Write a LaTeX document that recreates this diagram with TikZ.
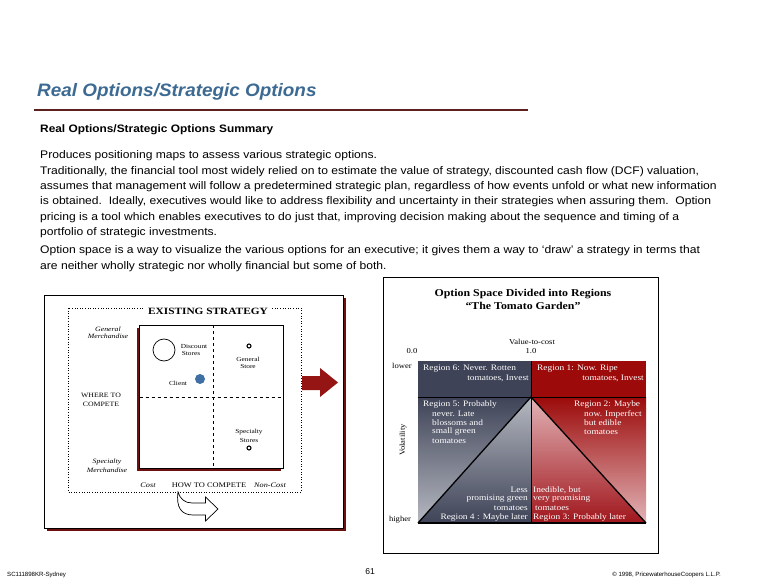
\documentclass[tikz,border=0pt]{standalone}
\usepackage{fontspec}
\setmainfont{Liberation Serif}
\setsansfont{Liberation Sans}
\newfontfamily\bodyfont[FakeStretch=1.1]{Liberation Sans}
\newfontfamily\titlefont[FakeStretch=1.05]{Liberation Sans}
\newfontfamily\leftfont[FakeStretch=1.18]{Liberation Serif}
\newfontfamily\chartfont[FakeStretch=1.13]{Liberation Serif}
\definecolor{titleblue}{HTML}{3D6A92}
\definecolor{rulered}{HTML}{5E1F1F}
\definecolor{shadowred}{HTML}{6E1010}
\definecolor{arrowred}{HTML}{951414}
\definecolor{slate}{HTML}{3E4357}
\definecolor{slatelight}{HTML}{B6B9C1}
\definecolor{redtop}{HTML}{9C0A0A}
\definecolor{redbot}{HTML}{A0161C}
\definecolor{pinklight}{HTML}{E2B4B7}
\definecolor{clientblue}{HTML}{3F6FA3}
\begin{document}
\begin{tikzpicture}[x=1pt,y=-1pt,
  body/.style={font=\bodyfont\fontsize{11}{12}\selectfont, inner sep=0pt, anchor=base west},
  tinytxt/.style={font=\leftfont\fontsize{6.2}{7}\selectfont, inner sep=0pt},
  tinyit/.style={font=\leftfont\fontsize{6.6}{7}\selectfont\itshape, inner sep=0pt},
  capstxt/.style={font=\leftfont\fontsize{6.6}{7}\selectfont, inner sep=0pt},
  axistxt/.style={font=\chartfont\fontsize{7.6}{8}\selectfont, inner sep=0pt},
  regtxt/.style={font=\chartfont\fontsize{8.3}{9}\selectfont, text=white, inner sep=0pt},
  foot/.style={font=\sffamily\fontsize{6.1}{7}\selectfont, inner sep=0pt}]
\useasboundingbox[fill=white] (0,0) rectangle (763,585);

% ---- header
\node[anchor=base west, inner sep=0pt, font=\titlefont\bfseries\itshape\fontsize{18}{20}\selectfont, text=titleblue] (title) at (37,97) {Real Options/Strategic Options};
\draw[rulered, line width=2.2] (34,110) -- (528,110);
\node[anchor=base west, inner sep=0pt, font=\bodyfont\bfseries\fontsize{10.8}{12}\selectfont] (sumhead) at (40,133) {Real Options/Strategic Options Summary};

\node[body] (p1) at (40,159) {Produces positioning maps to assess various strategic options.};
\node[body] (p2) at (40,174.5) {Traditionally, the financial tool most widely relied on to estimate the value of strategy, discounted cash flow (DCF) valuation,};
\node[body] (p3) at (40,189.8) {assumes that management will follow a predetermined strategic plan, regardless of how events unfold or what new information};
\node[body] (p4) at (40,205) {is obtained.\ \ Ideally, executives would like to address flexibility and uncertainty in their strategies when assuring them.\ \ Option};
\node[body] (p5) at (40,220.2) {pricing is a tool which enables executives to do just that, improving decision making about the sequence and timing of a};
\node[body] (p6) at (40,235.4) {portfolio of strategic investments.};
\node[body] (p7) at (40,254) {Option space is a way to visualize the various options for an executive; it gives them a way to ‘draw’ a strategy in terms that};
\node[body] (p8) at (40,269.2) {are neither wholly strategic nor wholly financial but some of both.};

% ---- left panel
\fill[shadowred] (47,298) rectangle (346,531);
\draw[fill=white, line width=0.8] (44,295) rectangle (343,528);
\draw[dotted, line width=0.6] (68,308) rectangle (301,492);
\node[fill=white, inner sep=4pt, font=\leftfont\bfseries\fontsize{9.6}{10}\selectfont] (exist) at (208,311) {EXISTING STRATEGY};
\fill[shadowred] (136.5,328) rectangle (281,471);
\draw[fill=white, line width=0.8] (139.5,325) rectangle (283,468);
\draw[dashed, line width=0.7] (213,325) -- (213,468);
\draw[dashed, line width=0.7] (139.5,397) -- (283,397);
\draw[line width=0.7] (164,350) circle (11);
\draw[line width=1.1] (249,346) circle (2);
\draw[line width=1.1] (249,448) circle (2);
\fill[clientblue] (200,379) circle (5);

\node[tinyit] (gm1) at (108,329) {General};
\node[tinyit] (gm2) at (108,336.5) {Merchandise};
\node[tinytxt] (ds1) at (194,346) {Discount};
\node[tinytxt] (ds2) at (191,353.5) {Stores};
\node[tinytxt] (gs1) at (248,359) {General};
\node[tinytxt] (gs2) at (248,366.5) {Store};
\node[tinytxt] (cl) at (178,383) {Client};
\node[capstxt] (wc1) at (101,395.5) {WHERE TO};
\node[capstxt] (wc2) at (101,404) {COMPETE};
\node[tinytxt] (ss1) at (249,432) {Specialty};
\node[tinytxt] (ss2) at (249,440) {Stores};
\node[tinyit] (sm1) at (107,462) {Specialty};
\node[tinyit] (sm2) at (107,470) {Merchandise};
\node[tinyit, font=\leftfont\fontsize{7}{7}\selectfont\itshape] (cost) at (148,485) {Cost};
\node[capstxt, font=\leftfont\fontsize{7.1}{7}\selectfont] (hc) at (209,485) {HOW TO COMPETE};
\node[tinyit, font=\leftfont\fontsize{7}{7}\selectfont\itshape] (ncost) at (270,485) {Non-Cost};

% curved hollow arrow
\draw[fill=white, line width=0.7, line join=miter]
  (178,492) .. controls (176,507) and (181,515) .. (193,515) -- (205.5,515) -- (205.5,521)
  -- (218,509) -- (205.5,497) -- (205.5,503) -- (192,503)
  .. controls (185,503) and (180,499) .. (178,492) -- cycle;

% big red arrow
\fill[arrowred] (302,376) -- (320,376) -- (320,368) -- (338,382.5) -- (320,397) -- (320,390) -- (302,390) -- cycle;

% ---- right panel
\draw[line width=0.7] (383,277) rectangle (658,553);
\node[font=\chartfont\bfseries\fontsize{10.5}{11}\selectfont, inner sep=0pt] (rt1) at (523,294) {Option Space Divided into Regions};
\node[font=\chartfont\bfseries\fontsize{10.5}{11}\selectfont, inner sep=0pt] (rt2) at (523,305.5) {“The Tomato Garden”};

\node[axistxt] (vtc) at (532,342) {Value-to-cost};
\node[axistxt] (z0) at (412,351) {0.0};
\node[axistxt] (z1) at (531,351) {1.0};
\node[axistxt] (low) at (402,366) {lower};
\node[axistxt] (high) at (400,520) {higher};
\node[axistxt, rotate=90] (vol) at (403,440) {Volatility};

\fill[slate] (418,361) rectangle (531,397);
\fill[redtop] (531,361) rectangle (646,397);
\shade[top color=slate, bottom color=slatelight] (418,397) -- (531,397) -- (418,523) -- cycle;
\shade[top color=slatelight, bottom color=slate] (531,397) -- (531,523) -- (418,523) -- cycle;
\shade[top color=redtop, bottom color=pinklight] (531,397) -- (646,397) -- (646,523) -- cycle;
\shade[top color=pinklight, bottom color=redbot] (531,397) -- (646,523) -- (531,523) -- cycle;
\draw[line width=0.6] (418,397) -- (646,397);
\draw[line width=0.6] (531,361) -- (531,523);
\draw[line width=1.2] (418,523) -- (646,523);
\draw[line width=1.3, line join=miter] (418,523) -- (531,397) -- (646,523);

\node[regtxt, anchor=west] (r6a) at (423,369) {Region 6: Never. Rotten};
\node[regtxt, anchor=east] (r6b) at (529,378) {tomatoes, Invest};
\node[regtxt, anchor=west] (r1a) at (537,369) {Region 1: Now. Ripe};
\node[regtxt, anchor=east] (r1b) at (644,378) {tomatoes, Invest};

\node[regtxt, anchor=west] (r5a) at (423,405) {Region 5: Probably};
\node[regtxt, anchor=west] (r5b) at (432,414) {never. Late};
\node[regtxt, anchor=west] (r5c) at (432,423) {blossoms and};
\node[regtxt, anchor=west] (r5d) at (432,432) {small green};
\node[regtxt, anchor=west] (r5e) at (432,441) {tomatoes};

\node[regtxt, anchor=west] (r2a) at (574,405) {Region 2: Maybe};
\node[regtxt, anchor=west] (r2b) at (584,414) {now. Imperfect};
\node[regtxt, anchor=west] (r2c) at (584,423) {but edible};
\node[regtxt, anchor=west] (r2d) at (584,432) {tomatoes};

\node[regtxt, anchor=east] (r4a) at (528,490) {Less};
\node[regtxt, anchor=east] (r4b) at (528,499) {promising green};
\node[regtxt, anchor=east] (r4c) at (528,508) {tomatoes};
\node[regtxt, anchor=east] (r4d) at (528,518) {Region 4 : Maybe later};

\node[regtxt, anchor=west] (r3a) at (533,490) {Inedible, but};
\node[regtxt, anchor=west] (r3b) at (533,499) {very promising};
\node[regtxt, anchor=west] (r3c) at (535,508) {tomatoes};
\node[regtxt, anchor=west] (r3d) at (533,518) {Region 3: Probably later};

% ---- footer
\node[foot, anchor=west] (f1) at (7,575) {SC111898KR-Sydney};
\node[font=\sffamily\fontsize{8.5}{9}\selectfont, inner sep=0pt] (f2) at (370,572) {61};
\node[foot, anchor=east] (f3) at (721,575) {\textcopyright\ 1998, PricewaterhouseCoopers L.L.P.};
\end{tikzpicture}
\end{document}
